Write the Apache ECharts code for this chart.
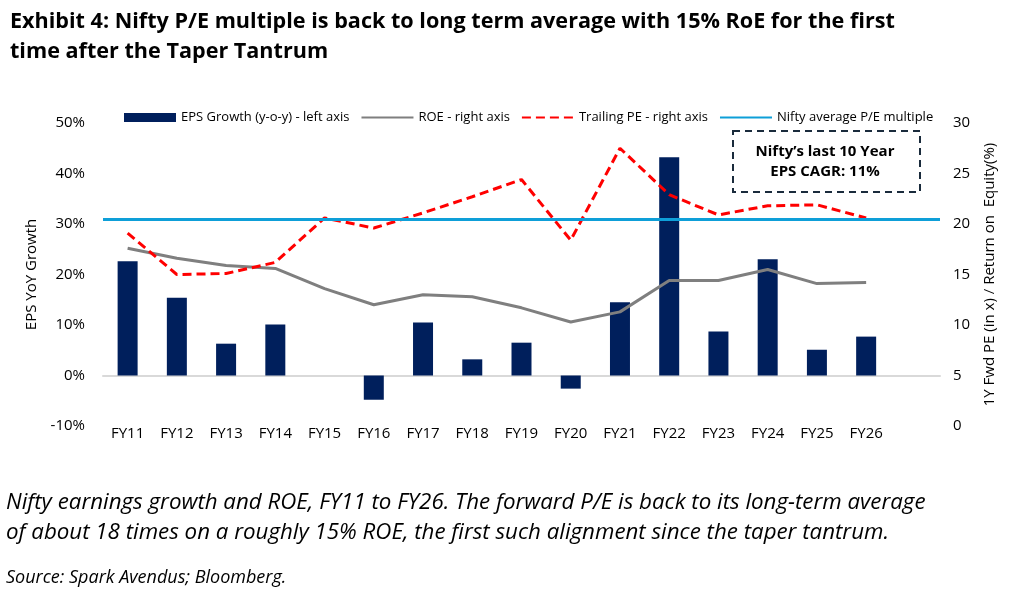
<!DOCTYPE html>
<html>
<head>
<meta charset="utf-8">
<script src="https://cdn.jsdelivr.net/npm/echarts@6/dist/echarts.min.js"></script>
<style>html,body{margin:0;padding:0;background:#fff}#c{width:1009px;height:598px}</style>
</head>
<body>
<div id="c"></div>
<script>
const categories = ['FY11','FY12','FY13','FY14','FY15','FY16','FY17','FY18','FY19','FY20','FY21','FY22','FY23','FY24','FY25','FY26',''];
const epsGrowth = [22.6,15.4,6.3,10.1,null,-4.8,10.5,3.2,6.5,-2.6,14.5,43.2,8.7,23.0,5.1,7.7,null];
const roe = [17.6,16.6,15.9,15.6,13.6,12.0,13.0,12.8,11.7,10.3,11.3,14.4,14.4,15.5,14.1,14.2,null];
const trailingPE = [19.1,15.0,15.1,16.2,20.6,19.6,21.1,22.7,24.4,18.4,27.5,22.9,20.9,21.8,21.9,20.6,null];
const niftyAvgPE = 20.5;
const leftTicks = {min:-10, max:50, interval:10};
const rightTicks = {min:0, max:30, interval:5};

const F = '"Open Sans",sans-serif';
const hideSym = {color:'rgba(0,0,0,0)', borderWidth:0};
const chart = echarts.init(document.getElementById('c'));
chart.setOption({
  animation:false,
  textStyle:{fontFamily:F},
  title:{text:'Exhibit 4: Nifty P/E multiple is back to long term average with 15% RoE for the first\ntime after the Taper Tantrum',
    left:5, top:2, textStyle:{fontFamily:F, fontSize:21.6, fontWeight:'bold', color:'#000', lineHeight:30}},
  legend:{top:106, left:119, itemWidth:52, itemHeight:9, itemGap:11,
    textStyle:{fontFamily:F, fontSize:13, color:'#000'},
    data:[{name:'EPS Growth (y-o-y) - left axis', icon:'rect'},
      {name:'ROE - right axis', itemStyle:hideSym},
      {name:'Trailing PE - right axis', itemStyle:hideSym},
      {name:'Nifty average P/E multiple', itemStyle:hideSym}]},
  grid:{left:103, right:69, top:123, bottom:172},
  xAxis:{type:'category', data:categories, boundaryGap:true,
    axisLine:{onZero:true, lineStyle:{color:'#d9d9d9', width:2}}, axisTick:{show:false},
    axisLabel:{fontSize:15, color:'#000', margin:0, interval:0},
    position:'bottom'},
  yAxis:[
    {type:'value', min:leftTicks.min, max:leftTicks.max, interval:leftTicks.interval,
      splitLine:{show:false}, axisLine:{show:false}, axisTick:{show:false},
      axisLabel:{fontSize:15, color:'#000', formatter:v=>v+'%', margin:18},
      name:'EPS YoY Growth', nameLocation:'middle', nameGap:57, nameRotate:90,
      nameTextStyle:{fontSize:15, color:'#000'}},
    {type:'value', min:rightTicks.min, max:rightTicks.max, interval:rightTicks.interval,
      splitLine:{show:false}, axisLine:{show:false}, axisTick:{show:false},
      axisLabel:{fontSize:15, color:'#000', margin:13},
      name:'1Y Fwd PE (in x) / Return on  Equity(%)', nameLocation:'middle', nameGap:42, nameRotate:90,
      nameTextStyle:{fontSize:15, color:'#000'}}
  ],
  series:[
    {name:'EPS Growth (y-o-y) - left axis', type:'bar', data:epsGrowth, barWidth:20, yAxisIndex:0,
      itemStyle:{color:'#001f5c'}},
    {name:'ROE - right axis', type:'line', data:roe, yAxisIndex:1, symbol:'none',
      lineStyle:{color:'#7f7f7f', width:3}, itemStyle:{color:'#7f7f7f'}},
    {name:'Trailing PE - right axis', type:'line', data:trailingPE, yAxisIndex:1, symbol:'none',
      lineStyle:{color:'#ff0000', width:3, type:[9,5]}, itemStyle:{color:'#ff0000'}},
    {name:'Nifty average P/E multiple', type:'line', data:[], yAxisIndex:1, symbol:'none',
      lineStyle:{color:'#0e9fd8', width:3}, itemStyle:{color:'#0e9fd8'},
      markLine:{silent:true, symbol:'none', label:{show:false},
        lineStyle:{color:'#0e9fd8', width:3, type:'solid'}, data:[{yAxis:niftyAvgPE}]}}
  ],
  graphic:[
    {type:'rect', left:732, top:130, shape:{width:187, height:61},
      style:{fill:'#fff', stroke:'#1a2b3c', lineWidth:2, lineDash:[7,5]}, z:10},
    {type:'text', x:825, y:152, z:11, style:{text:'Nifty’s last 10 Year', font:'bold 15px '+F, fill:'#000', align:'center', verticalAlign:'middle'}},
    {type:'text', x:825, y:172, z:11, style:{text:'EPS CAGR: 11%', font:'bold 15px '+F, fill:'#000', align:'center', verticalAlign:'middle'}},
    {type:'text', x:6, y:503, style:{text:'Nifty earnings growth and ROE, FY11 to FY26. The forward P/E is back to its long-term average', font:'italic 22.3px '+F, fill:'#000', verticalAlign:'middle'}},
    {type:'text', x:6, y:533, style:{text:'of about 18 times on a roughly 15% ROE, the first such alignment since the taper tantrum.', font:'italic 22.3px '+F, fill:'#000', verticalAlign:'middle'}},
    {type:'text', x:6, y:578, style:{text:'Source: Spark Avendus; Bloomberg.', font:'italic 18px '+F, fill:'#000', verticalAlign:'middle'}}
  ]
});
</script>
</body>
</html>
